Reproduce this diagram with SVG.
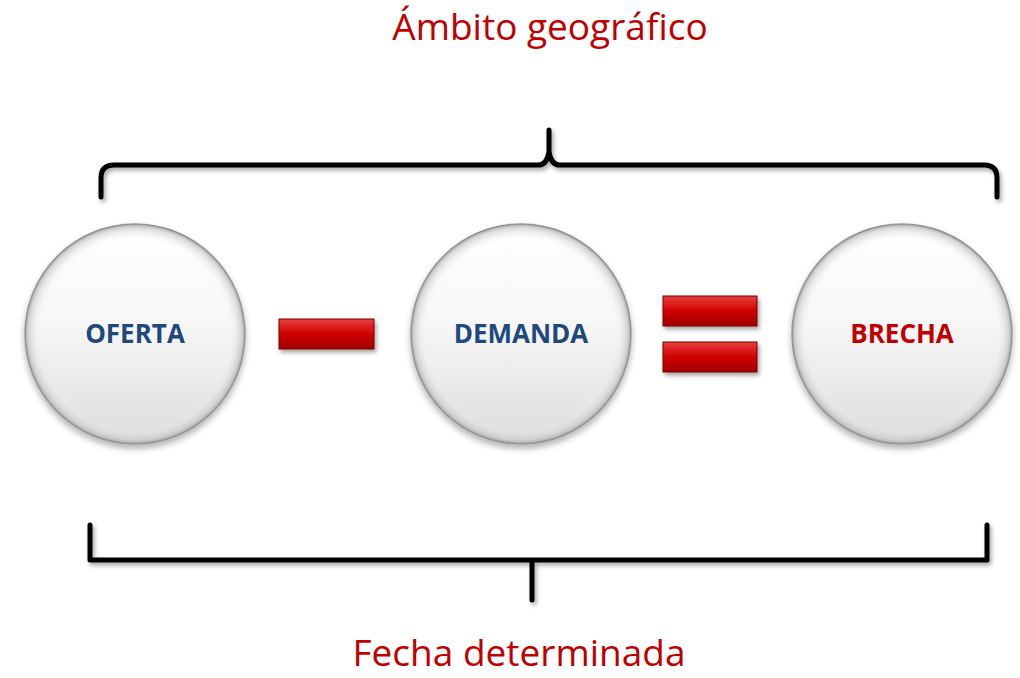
<svg xmlns="http://www.w3.org/2000/svg" width="1020" height="678" viewBox="0 0 1020 678">
<defs>
<style>
.title{font-family:"Open Sans","Liberation Sans",sans-serif;font-size:37px;fill:#C00000;text-anchor:middle}
.lbl{font-family:"Open Sans","Liberation Sans",sans-serif;font-size:26px;font-weight:bold;text-anchor:middle}
.blue{fill:#1F497D}
.red{fill:#C00000}
.brace{fill:none;stroke:#000;stroke-width:5;stroke-linecap:round;stroke-linejoin:round;filter:url(#sh)}
.ball{fill:url(#ballg);stroke:#9a9a9a;stroke-width:1.5;filter:url(#bsh)}
.bar{fill:url(#barg);stroke:#7a0000;stroke-width:1;filter:url(#sh)}
</style>
<linearGradient id="ballg" x1="0" y1="0" x2="0" y2="1">
<stop offset="0" stop-color="#ffffff"/>
<stop offset="0.45" stop-color="#f7f7f7"/>
<stop offset="1" stop-color="#dcdcdc"/>
</linearGradient>
<radialGradient id="rim" cx="0.5" cy="0.5" r="0.5">
<stop offset="0.85" stop-color="#ffffff" stop-opacity="0"/>
<stop offset="0.97" stop-color="#bdbdbd" stop-opacity="0.6"/>
<stop offset="1" stop-color="#8a8a8a" stop-opacity="0.8"/>
</radialGradient>
<linearGradient id="barg" x1="0" y1="0" x2="0" y2="1">
<stop offset="0" stop-color="#e84040"/>
<stop offset="0.5" stop-color="#d00000"/>
<stop offset="1" stop-color="#a00000"/>
</linearGradient>
<filter id="sh" x="-10%" y="-20%" width="120%" height="160%">
<feDropShadow dx="2" dy="3" stdDeviation="2" flood-color="#000" flood-opacity="0.35"/>
</filter>
<filter id="bsh" x="-10%" y="-10%" width="120%" height="125%">
<feDropShadow dx="0" dy="4" stdDeviation="3" flood-color="#000" flood-opacity="0.3"/>
</filter>
</defs>
<rect width="1020" height="678" fill="#fff"/>
<text class="title" x="550" y="40">Ámbito geográfico</text>
<text class="title" x="519" y="666">Fecha determinada</text>
<g id="connectors">
<path class="brace" d="M101,197 L101,178 Q101,165 114,165 L538,165 Q547,165 549,152 L549,130 M549,152 Q551,165 560,165 L984,165 Q997,165 997,178 L997,197"/>
<path class="brace" d="M90,525 L90,560 L987,560 L987,525 M532,560 L532,600"/>
</g>
<g id="oferta">
<circle class="ball" cx="135" cy="334" r="110"/>
<circle cx="135" cy="334" r="110" fill="url(#rim)"/>
<text class="lbl blue" x="135" y="343">OFERTA</text>
</g>
<g id="minus">
<rect class="bar" x="279" y="319" width="95" height="30"/>
</g>
<g id="demanda">
<circle class="ball" cx="521" cy="334" r="110"/>
<circle cx="521" cy="334" r="110" fill="url(#rim)"/>
<text class="lbl blue" x="521" y="343">DEMANDA</text>
</g>
<g id="equals">
<rect class="bar" x="663" y="296" width="94" height="30"/>
<rect class="bar" x="663" y="342" width="94" height="30"/>
</g>
<g id="brecha">
<circle class="ball" cx="902" cy="334" r="110"/>
<circle cx="902" cy="334" r="110" fill="url(#rim)"/>
<text class="lbl red" x="902" y="343">BRECHA</text>
</g>
</svg>
